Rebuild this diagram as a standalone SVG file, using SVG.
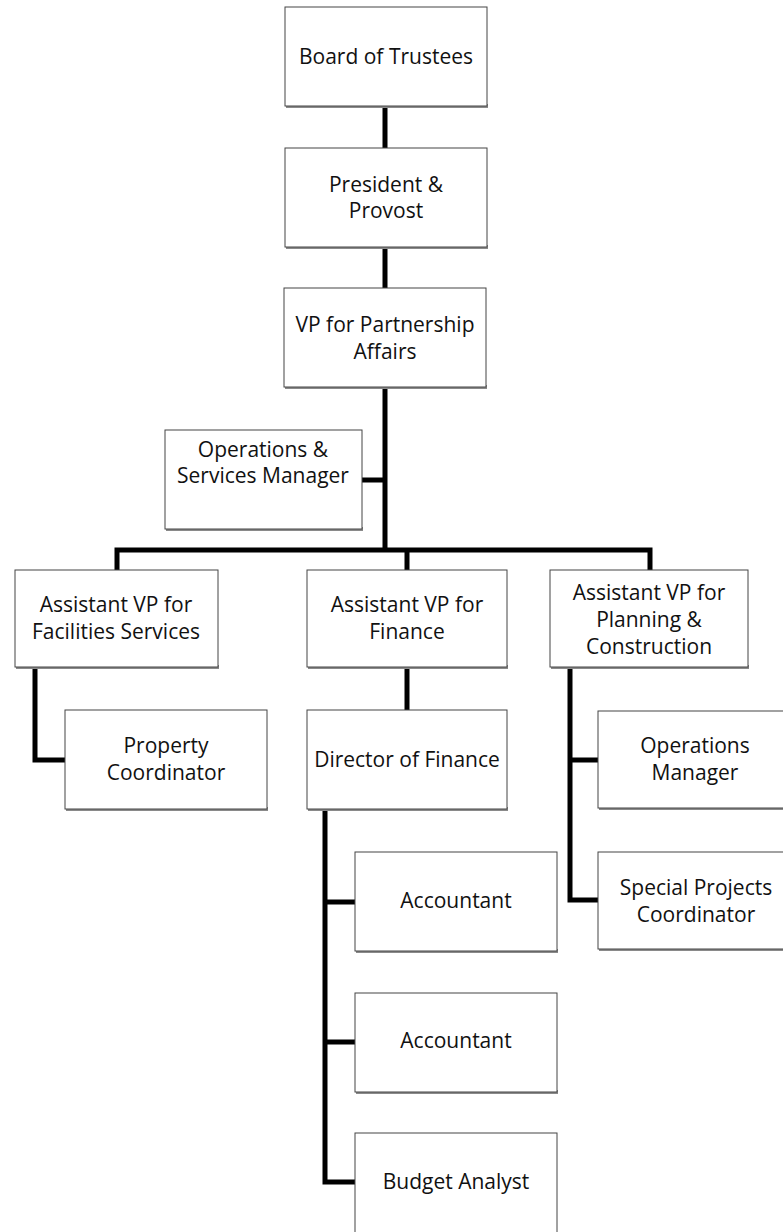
<svg xmlns="http://www.w3.org/2000/svg" width="783" height="1232" viewBox="0 0 783 1232">
<style>
.box{fill:#fff;stroke:#444;stroke-width:1}
.sh{fill:#8a8a8a}
.t{font-family:"Open Sans","Liberation Sans",sans-serif;font-size:21px;fill:#111;text-anchor:middle}
.c{fill:none;stroke:#000;stroke-width:5;stroke-linecap:square;stroke-linejoin:miter}
</style>
<rect width="783" height="1232" fill="#fff"/>
<g id="connectors">
<path class="c" d="M385 107V148M385 248V288M385 388V550M363 480H385M117 550H650M117 550V570M407 550V570M650 550V570"/>
<path class="c" d="M35 668V760H65"/>
<path class="c" d="M407 668V710"/>
<path class="c" d="M570 668V900H598M570 760H598"/>
<path class="c" d="M325 810V1182H355M325 902H355M325 1042H355"/>
</g>
<g id="board">
<rect class="sh" x="286" y="104" width="202" height="4"/>
<rect class="box" x="285" y="7" width="202" height="99"/>
<text class="t" x="386" y="64">Board of Trustees</text>
</g>
<g id="president">
<rect class="sh" x="286" y="245" width="202" height="4"/>
<rect class="box" x="285" y="148" width="202" height="99"/>
<text class="t" x="386" y="192">President &amp;</text>
<text class="t" x="386" y="218">Provost</text>
</g>
<g id="vp-partnership">
<rect class="sh" x="285" y="385" width="202" height="4"/>
<rect class="box" x="284" y="288" width="202" height="99"/>
<text class="t" x="385" y="332">VP for Partnership</text>
<text class="t" x="385" y="359">Affairs</text>
</g>
<g id="ops-services">
<rect class="sh" x="166" y="527" width="197" height="4"/>
<rect class="box" x="165" y="430" width="197" height="99"/>
<text class="t" x="263" y="457">Operations &amp;</text>
<text class="t" x="263" y="483">Services Manager</text>
</g>
<g id="avp-facilities">
<rect class="sh" x="16" y="665" width="203" height="4"/>
<rect class="box" x="15" y="570" width="203" height="97"/>
<text class="t" x="116" y="612">Assistant VP for</text>
<text class="t" x="116" y="639">Facilities Services</text>
</g>
<g id="avp-finance">
<rect class="sh" x="308" y="665" width="200" height="4"/>
<rect class="box" x="307" y="570" width="200" height="97"/>
<text class="t" x="407" y="612">Assistant VP for</text>
<text class="t" x="407" y="639">Finance</text>
</g>
<g id="avp-planning">
<rect class="sh" x="551" y="665" width="198" height="4"/>
<rect class="box" x="550" y="570" width="198" height="97"/>
<text class="t" x="649" y="600">Assistant VP for</text>
<text class="t" x="649" y="627">Planning &amp;</text>
<text class="t" x="649" y="654">Construction</text>
</g>
<g id="property-coordinator">
<rect class="sh" x="66" y="807" width="202" height="4"/>
<rect class="box" x="65" y="710" width="202" height="99"/>
<text class="t" x="166" y="753">Property</text>
<text class="t" x="166" y="780">Coordinator</text>
</g>
<g id="director-finance">
<rect class="sh" x="308" y="807" width="200" height="4"/>
<rect class="box" x="307" y="710" width="200" height="99"/>
<text class="t" x="407" y="767">Director of Finance</text>
</g>
<g id="operations-manager">
<rect class="sh" x="599" y="806" width="200" height="4"/>
<rect class="box" x="598" y="711" width="200" height="97"/>
<text class="t" x="695" y="753">Operations</text>
<text class="t" x="695" y="780">Manager</text>
</g>
<g id="special-projects">
<rect class="sh" x="599" y="947" width="200" height="4"/>
<rect class="box" x="598" y="852" width="200" height="97"/>
<text class="t" x="696" y="895">Special Projects</text>
<text class="t" x="696" y="922">Coordinator</text>
</g>
<g id="accountant-1">
<rect class="sh" x="356" y="949" width="202" height="4"/>
<rect class="box" x="355" y="852" width="202" height="99"/>
<text class="t" x="456" y="908">Accountant</text>
</g>
<g id="accountant-2">
<rect class="sh" x="356" y="1090" width="202" height="4"/>
<rect class="box" x="355" y="993" width="202" height="99"/>
<text class="t" x="456" y="1048">Accountant</text>
</g>
<g id="budget-analyst">
<rect class="box" x="355" y="1133" width="202" height="110"/>
<text class="t" x="456" y="1189">Budget Analyst</text>
</g>
</svg>
